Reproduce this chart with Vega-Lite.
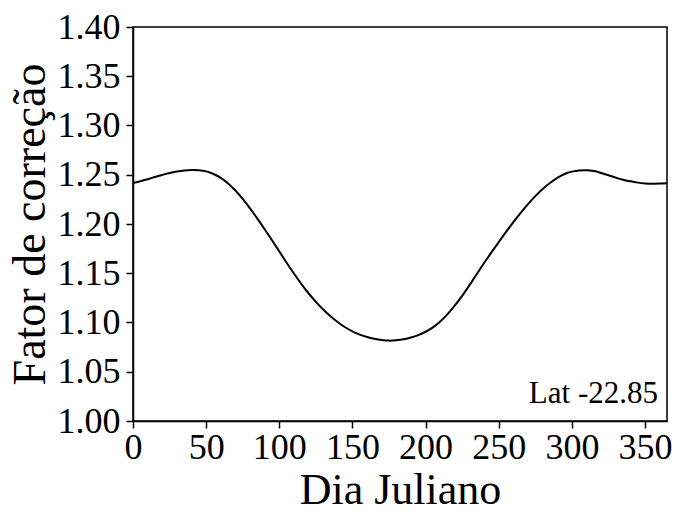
{
  "$schema": "https://vega.github.io/schema/vega-lite/v6.json",
  "autosize": {"type": "none"},
  "padding": {"left": 133, "top": 27, "right": 6, "bottom": 93},
  "width": 534,
  "height": 394,
  "background": "white",
  "config": {
    "view": {"stroke": "black", "strokeWidth": 1.5},
    "font": "Liberation Serif",
    "axis": {
      "grid": false,
      "domainColor": "black",
      "domainWidth": 1.5,
      "tickColor": "black",
      "tickWidth": 1.5,
      "labelColor": "black",
      "titleColor": "black",
      "labelFont": "Liberation Serif",
      "titleFont": "Liberation Serif",
      "labelFontSize": 36,
      "titleFontSize": 46,
      "titleFontWeight": "normal"
    }
  },
  "datasets": {
    "curve": [
      {"dia": 0, "fator": 1.2416},
      {"dia": 5, "fator": 1.2434},
      {"dia": 10, "fator": 1.2455},
      {"dia": 15, "fator": 1.2477},
      {"dia": 20, "fator": 1.2498},
      {"dia": 25, "fator": 1.2517},
      {"dia": 30, "fator": 1.2532},
      {"dia": 35, "fator": 1.2543},
      {"dia": 40, "fator": 1.2548},
      {"dia": 45, "fator": 1.2546},
      {"dia": 50, "fator": 1.2534},
      {"dia": 55, "fator": 1.2508},
      {"dia": 60, "fator": 1.2468},
      {"dia": 65, "fator": 1.2412},
      {"dia": 70, "fator": 1.2340},
      {"dia": 75, "fator": 1.2254},
      {"dia": 80, "fator": 1.2158},
      {"dia": 85, "fator": 1.2055},
      {"dia": 90, "fator": 1.1947},
      {"dia": 95, "fator": 1.1835},
      {"dia": 100, "fator": 1.1721},
      {"dia": 105, "fator": 1.1607},
      {"dia": 110, "fator": 1.1497},
      {"dia": 115, "fator": 1.1393},
      {"dia": 120, "fator": 1.1297},
      {"dia": 125, "fator": 1.1210},
      {"dia": 130, "fator": 1.1132},
      {"dia": 135, "fator": 1.1063},
      {"dia": 140, "fator": 1.1003},
      {"dia": 145, "fator": 1.0952},
      {"dia": 150, "fator": 1.0910},
      {"dia": 155, "fator": 1.0877},
      {"dia": 160, "fator": 1.0852},
      {"dia": 165, "fator": 1.0834},
      {"dia": 170, "fator": 1.0822},
      {"dia": 175, "fator": 1.0816},
      {"dia": 180, "fator": 1.0820},
      {"dia": 185, "fator": 1.0830},
      {"dia": 190, "fator": 1.0847},
      {"dia": 195, "fator": 1.0872},
      {"dia": 200, "fator": 1.0906},
      {"dia": 205, "fator": 1.0950},
      {"dia": 210, "fator": 1.1010},
      {"dia": 215, "fator": 1.1085},
      {"dia": 220, "fator": 1.1173},
      {"dia": 225, "fator": 1.1271},
      {"dia": 230, "fator": 1.1379},
      {"dia": 235, "fator": 1.1492},
      {"dia": 240, "fator": 1.1604},
      {"dia": 245, "fator": 1.1712},
      {"dia": 250, "fator": 1.1816},
      {"dia": 255, "fator": 1.1920},
      {"dia": 260, "fator": 1.2020},
      {"dia": 265, "fator": 1.2114},
      {"dia": 270, "fator": 1.2202},
      {"dia": 275, "fator": 1.2283},
      {"dia": 280, "fator": 1.2356},
      {"dia": 285, "fator": 1.2416},
      {"dia": 290, "fator": 1.2468},
      {"dia": 295, "fator": 1.2508},
      {"dia": 300, "fator": 1.2532},
      {"dia": 305, "fator": 1.2544},
      {"dia": 310, "fator": 1.2546},
      {"dia": 315, "fator": 1.2537},
      {"dia": 320, "fator": 1.2518},
      {"dia": 325, "fator": 1.2495},
      {"dia": 330, "fator": 1.2471},
      {"dia": 335, "fator": 1.2450},
      {"dia": 340, "fator": 1.2433},
      {"dia": 345, "fator": 1.2420},
      {"dia": 350, "fator": 1.2412},
      {"dia": 355, "fator": 1.2409},
      {"dia": 360, "fator": 1.2410},
      {"dia": 365, "fator": 1.2414}
    ],
    "anot": [
      {"dia": 365, "fator": 1.0, "texto": "Lat -22.85"}
    ]
  },
  "layer": [
    {
      "data": {"name": "curve"},
      "mark": {"type": "line", "color": "black", "strokeWidth": 2, "interpolate": "catmull-rom", "clip": true},
      "encoding": {
        "x": {
          "field": "dia", "type": "quantitative",
          "scale": {"domain": [0, 365], "nice": false, "zero": false},
          "axis": {
            "title": "Dia Juliano",
            "titleFontSize": 44,
            "values": [0, 50, 100, 150, 200, 250, 300, 350],
            "tickSize": 7,
            "labelPadding": 2,
            "titlePadding": 3,
            "labelFlush": false,
            "labelOverlap": false
          }
        },
        "y": {
          "field": "fator", "type": "quantitative",
          "scale": {"domain": [1.0, 1.4], "nice": false, "zero": false},
          "axis": {
            "title": "Fator de correção",
            "values": [1.0, 1.025, 1.05, 1.075, 1.1, 1.125, 1.15, 1.175, 1.2, 1.225, 1.25, 1.275, 1.3, 1.325, 1.35, 1.375, 1.4],
            "labelExpr": "round(datum.value * 1000) % 50 == 0 ? format(datum.value, '.2f') : ''",
            "tickSize": {"condition": {"test": "round(datum.value * 1000) % 50 != 0", "value": 3}, "value": 7},
            "labelPadding": 6,
            "titlePadding": 3,
            "labelFlush": false,
            "labelOverlap": false,
            "labelBaseline": "middle"
          }
        }
      }
    },
    {
      "data": {"name": "anot"},
      "mark": {"type": "text", "align": "right", "baseline": "alphabetic", "font": "Liberation Serif", "fontSize": 31, "color": "black", "dx": -9, "dy": -18},
      "encoding": {
        "x": {"field": "dia", "type": "quantitative"},
        "y": {"field": "fator", "type": "quantitative"},
        "text": {"field": "texto"}
      }
    }
  ]
}
